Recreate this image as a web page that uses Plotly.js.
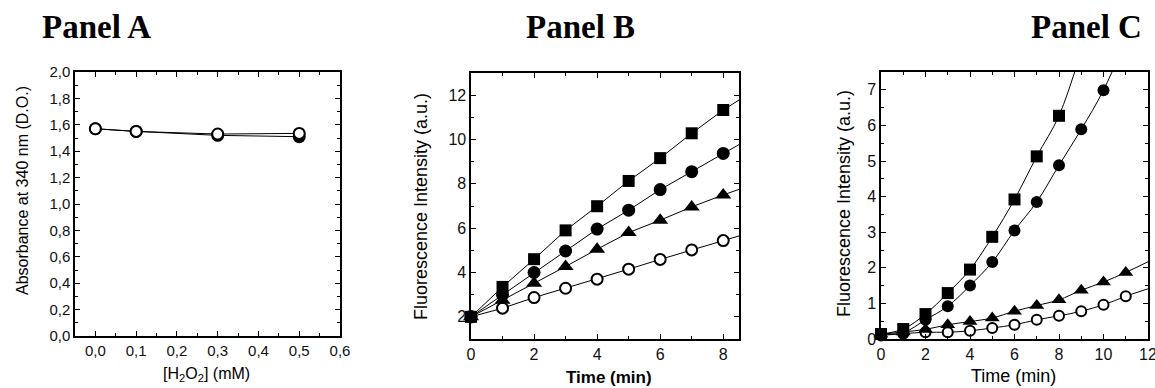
<!DOCTYPE html>
<html>
<head>
<meta charset="utf-8">
<script src="https://cdn.plot.ly/plotly-3.0.1.min.js"></script>
<style>html,body{margin:0;padding:0;background:#fff;}#chart{width:1155px;height:388px;}</style>
</head>
<body>
<div id="chart"></div>
<script>
// ---------- Panel A ----------
const aConc = [0.0, 0.1, 0.3, 0.5];
const aFilled = [1.57, 1.55, 1.52, 1.51];
const aOpen = [1.57, 1.55, 1.53, 1.535];

// ---------- Panel B ----------
const bTime = [0, 1, 2, 3, 4, 5, 6, 7, 8];
const bSquare = [2.0, 3.35, 4.6, 5.9, 6.99, 8.13, 9.16, 10.28, 11.33];
const bCircle = [2.0, 3.0, 4.0, 4.97, 5.96, 6.81, 7.74, 8.55, 9.37];
const bTriangle = [2.0, 2.75, 3.52, 4.27, 5.05, 5.8, 6.36, 6.96, 7.5];
const bOpen = [2.0, 2.39, 2.87, 3.29, 3.70, 4.15, 4.59, 5.02, 5.44];
const bFitEndTime = 8.5;
const bFitEnd = [11.78, 9.77, 7.75, 5.65]; // square, circle, triangle, open

// ---------- Panel C ----------
const cTimeSq = [0, 1, 2, 3, 4, 5, 6, 7, 8];
const cSquare = [0.14, 0.28, 0.70, 1.29, 1.95, 2.87, 3.92, 5.13, 6.27];
const cTimeCi = [0, 1, 2, 3, 4, 5, 6, 7, 8, 9, 10];
const cCircle = [0.14, 0.18, 0.54, 0.92, 1.5, 2.16, 3.05, 3.85, 4.88, 5.89, 6.99];
const cTime11 = [0, 1, 2, 3, 4, 5, 6, 7, 8, 9, 10, 11];
const cTriangle = [0.13, 0.2, 0.27, 0.40, 0.49, 0.59, 0.78, 0.94, 1.10, 1.37, 1.60, 1.87];
const cOpen = [0.1, 0.15, 0.19, 0.19, 0.23, 0.31, 0.40, 0.54, 0.65, 0.78, 0.96, 1.20];
const cFitEndTime = [9.0, 11.0, 12.0, 12.0];
const cFitEnd = [8.1, 8.4, 2.17, 1.41]; // square, circle, triangle, open
const cXTicks = [0, 2, 4, 6, 8, 10, 12];

const W = 1155, H = 388;
function px2x(a, b) { return [a / W, b / W]; }
function px2y(top, bottom) { return [1 - bottom / H, 1 - top / H]; }

const traces = [];
function lineTrace(x, y, xa, ya, shape) {
  traces.push({x: x, y: y, xaxis: xa, yaxis: ya, mode: 'lines', type: 'scatter',
    line: {color: '#000', width: 1, shape: shape || 'linear', smoothing: 1}, hoverinfo: 'skip', showlegend: false});
}
function markerTrace(x, y, xa, ya, sym, size, open) {
  traces.push({x: x, y: y, xaxis: xa, yaxis: ya, mode: 'markers', type: 'scatter', cliponaxis: false,
    marker: {symbol: sym, size: size, color: open ? '#fff' : '#000', line: {color: '#000', width: open ? 2 : 0}},
    showlegend: false});
}

// Panel A
lineTrace(aConc, aFilled, 'x', 'y');
lineTrace(aConc, aOpen, 'x', 'y');
markerTrace(aConc, aFilled, 'x', 'y', 'circle', 13, false);
markerTrace(aConc, aOpen, 'x', 'y', 'circle', 11, true);

// Panel B
const bSeries = [bSquare, bCircle, bTriangle, bOpen];
bSeries.forEach((s, i) => lineTrace(bTime.concat([bFitEndTime]), s.concat([bFitEnd[i]]), 'x2', 'y2'));
markerTrace(bTime, bOpen, 'x2', 'y2', 'circle', 11, true);
markerTrace(bTime, bTriangle, 'x2', 'y2', 'triangle-up', 14, false);
markerTrace(bTime, bCircle, 'x2', 'y2', 'circle', 13, false);
markerTrace(bTime, bSquare, 'x2', 'y2', 'square', 12, false);

// Panel C
lineTrace(cTimeSq.concat([cFitEndTime[0]]), cSquare.concat([cFitEnd[0]]), 'x3', 'y3', 'spline');
lineTrace(cTimeCi.concat([cFitEndTime[1]]), cCircle.concat([cFitEnd[1]]), 'x3', 'y3', 'spline');
lineTrace(cTime11.concat([cFitEndTime[2]]), cTriangle.concat([cFitEnd[2]]), 'x3', 'y3', 'spline');
lineTrace(cTime11.concat([cFitEndTime[3]]), cOpen.concat([cFitEnd[3]]), 'x3', 'y3', 'spline');
markerTrace(cTime11, cOpen, 'x3', 'y3', 'circle', 10, true);
markerTrace(cTime11, cTriangle, 'x3', 'y3', 'triangle-up', 13, false);
markerTrace(cTimeCi, cCircle, 'x3', 'y3', 'circle', 12, false);
markerTrace(cTimeSq, cSquare, 'x3', 'y3', 'square', 12, false);

const SANS = 'Liberation Sans, Arial, sans-serif';
const SERIF = 'Liberation Serif, Times New Roman, serif';
function axis(domain, range, dtick, minorDtick, fmt, anchor, fontSize) {
  return {domain: domain, range: range, dtick: dtick, tick0: 0, anchor: anchor,
    showgrid: false, zeroline: false, showline: true, linecolor: '#000', linewidth: 1.6, mirror: 'ticks',
    ticks: 'inside', ticklen: 5, tickwidth: 1, tickcolor: '#000', tickformat: fmt, ticklabeloverflow: 'allow',
    minor: {dtick: minorDtick, ticks: 'inside', ticklen: 3, tickwidth: 1, tickcolor: '#000', showgrid: false},
    tickfont: {family: SANS, size: fontSize, color: '#111'}, fixedrange: true};
}

const xaxis3 = axis(px2x(881, 1148), [0, 12], 2, 1, 'd', 'y3', 16);
xaxis3.tickmode = 'array';
xaxis3.tickvals = cXTicks;
xaxis3.ticktext = cXTicks.map(String);

function ann(text, xpx, ypx, size, opts) {
  return Object.assign({text: text, x: xpx / W, y: 1 - ypx / H, xref: 'paper', yref: 'paper', showarrow: false,
    xanchor: 'center', yanchor: 'middle', font: {family: SANS, size: size, color: '#000'}}, opts || {});
}

const layout = {
  width: W, height: H, margin: {l: 0, r: 0, t: 0, b: 0},
  paper_bgcolor: '#fff', plot_bgcolor: '#fff', separators: ', ', showlegend: false,
  xaxis: axis(px2x(75, 340), [-0.05, 0.6], 0.1, 0.05, '.1f', 'y', 15),
  yaxis: axis(px2y(72, 336), [0, 2.0], 0.2, 0.1, '.1f', 'x', 15),
  xaxis2: axis(px2x(471, 739), [0, 8.5], 2, 1, 'd', 'y2', 16),
  yaxis2: axis(px2y(73, 339), [1, 13], 2, 1, 'd', 'x2', 16),
  xaxis3: xaxis3,
  yaxis3: axis(px2y(72, 339), [0, 7.5], 1, 0.5, 'd', 'x3', 16),
  annotations: [
    ann('<b>Panel A</b>', 96, 27, 33, {font: {family: SERIF, size: 33, color: '#000'}}),
    ann('<b>Panel B</b>', 580, 27, 33, {font: {family: SERIF, size: 33, color: '#000'}}),
    ann('<b>Panel C</b>', 1086, 27, 33, {font: {family: SERIF, size: 33, color: '#000'}}),
    ann('Absorbance at 340 nm (D.O.)', 22, 191, 16, {textangle: -90}),
    ann('[H<sub>2</sub>O<sub>2</sub>] (mM)', 206, 374, 16),
    ann('Fluorescence Intensity (a.u.)', 421, 207, 18, {textangle: -90}),
    ann('<b>Time (min)</b>', 609, 377, 17),
    ann('Fluorescence Intensity (a.u.)', 844, 203, 18, {textangle: -90}),
    ann('Time (min)', 1013, 376, 18)
  ]
};

Plotly.newPlot('chart', traces, layout, {displayModeBar: false, staticPlot: true});
</script>
</body>
</html>
